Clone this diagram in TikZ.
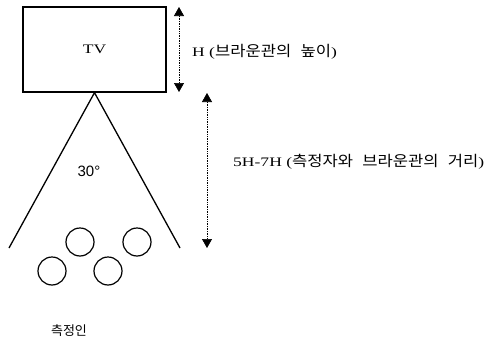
\documentclass[tikz,border=0pt]{standalone}
\usepackage{fontspec}
\setmainfont{Liberation Serif}[FakeStretch=1.35]
\newfontfamily\krfont{Noto Sans CJK KR}[FakeStretch=1.12,WordSpace=2.5]
\newfontfamily\krplain{Noto Sans CJK KR}
\newfontfamily\degfont{Liberation Sans}
\usepackage{tikz}
\usetikzlibrary{arrows.meta,positioning,calc}

\begin{document}
\begin{tikzpicture}[
  x=1pt,y=-1pt,
  tvbox/.style={draw,line width=1.3pt,minimum width=143pt,minimum height=85pt,inner sep=0pt,font=\fontsize{13}{16}\selectfont},
  viewer/.style={draw,circle,line width=1.2pt,minimum size=28pt,inner sep=0pt},
  dimarr/.style={{Triangle[length=9pt,width=10pt]}-{Triangle[length=9pt,width=10pt]},densely dotted,line width=0.7pt},
  lbl/.style={anchor=west,inner sep=0pt,font=\fontsize{13}{16}\selectfont},
  cone/.style={line width=1.3pt}
]
\useasboundingbox (0,0) rectangle (493,343);
\node[tvbox] (tv) at (94.5,49.5) {TV};
% viewing cone
\coordinate (apex) at (tv.south);
\coordinate (coneL) at (9,248);
\coordinate (coneR) at (180,248);
\draw[cone] (coneL) -- (apex) -- (coneR);
\node[font=\degfont\fontsize{15}{18}\selectfont] (angle) at (89,171) {30\textdegree};
% viewers
\node[viewer] (p1) at (80,242) {};
\node[viewer] (p2) at (137,242) {};
\node[viewer] (p3) at (52,271) {};
\node[viewer] (p4) at (108,271) {};
\node[font=\krplain\fontsize{13}{16}\selectfont] (who) at (69,331) {측정인};
% dimensions
\coordinate (hTop) at (179,7);
\coordinate (hBot) at (179,92);
\draw[dimarr] (hTop) -- (hBot);
\node[lbl] (hLbl) at (192,52) {H ({\krfont\fontsize{14.8}{16}\selectfont 브라운관의 높이})};
\coordinate (dTop) at (207,93);
\coordinate (dBot) at (207,248);
\draw[dimarr] (dTop) -- (dBot);
\node[lbl] (dLbl) at (233,162) {5H-7H ({\krfont\fontsize{14.8}{16}\selectfont 측정자와 브라운관의 거리})};
\end{tikzpicture}
\end{document}
